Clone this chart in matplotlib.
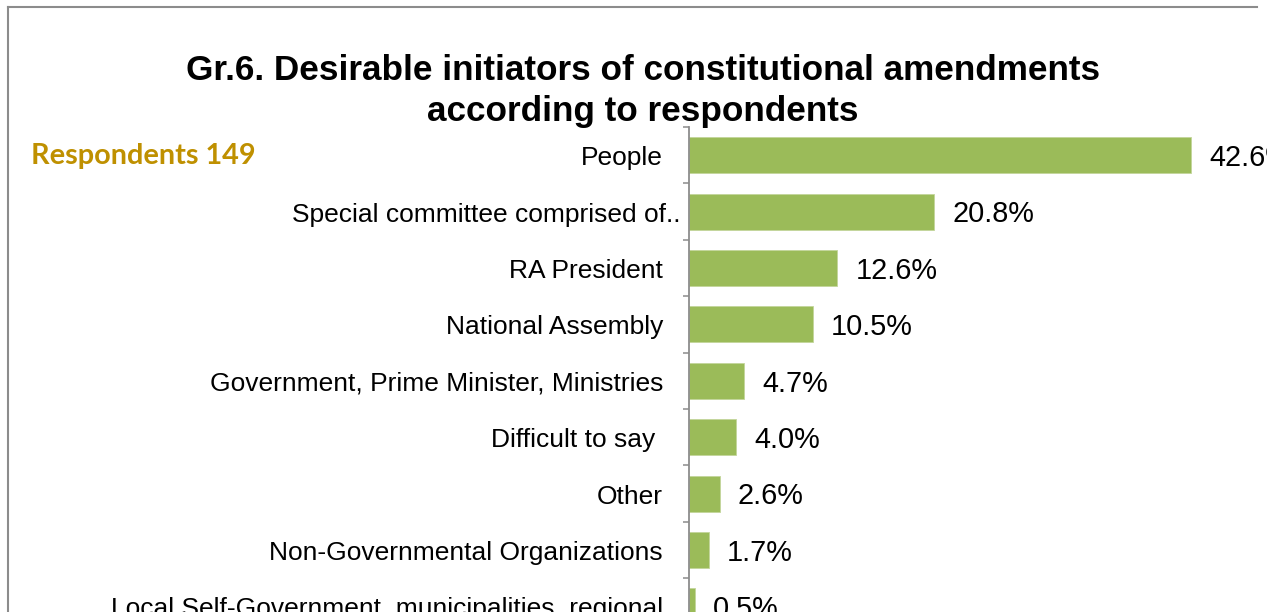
import matplotlib
matplotlib.use('Agg')
import matplotlib.pyplot as plt
from matplotlib.lines import Line2D
from matplotlib.transforms import offset_copy

# survey results, top to bottom
labels = ['People',
          'Special committee comprised of..',
          'RA President',
          'National Assembly',
          'Government, Prime Minister, Ministries',
          'Difficult to say ',
          'Other',
          'Non-Governmental Organizations',
          'Local Self-Government, municipalities, regional']
values = [42.6, 20.8, 12.6, 10.5, 4.7, 4.0, 2.6, 1.7, 0.5]
# extra shift (px) of a label to the right of the common edge
label_shift = [0, 17, 0, 0, 0, 0, 0, 0, 0]

W, H = 1267, 612
fig = plt.figure(figsize=(W / 100, H / 100), dpi=100)
fig.patch.set_facecolor('white')

# outer chart border (left and top only are visible)
fig.add_artist(Line2D([8 / W, 8 / W], [0, 1 - 7 / H], color='#8c8c8c', lw=1.5))
fig.add_artist(Line2D([8 / W, 1257 / W], [1 - 7 / H, 1 - 7 / H], color='#8c8c8c', lw=1.5))

ax_left = 689 / W
ax_top = 127 / H
ax_h = 9 * 56.4 / H
ax = fig.add_axes([ax_left, 1 - ax_top - ax_h, (W - 689) / W, ax_h])
ax.set_facecolor('none')

y = list(range(len(values)))
ax.barh(y, values, height=0.64, color='#9bbb59', edgecolor='#c3d69b', linewidth=0.6)
ax.set_ylim(len(values) - 0.5, -0.5)
ax.set_xlim(0, (W - 689) / 11.78)

for s in ['top', 'right', 'bottom']:
    ax.spines[s].set_visible(False)
ax.spines['left'].set_color('#8c8c8c')
ax.spines['left'].set_linewidth(1.3)
ax.set_xticks([])
ax.set_yticks([i - 0.5 for i in range(len(values) + 1)])
ax.set_yticklabels([])
ax.tick_params(axis='y', direction='out', length=4, width=1.1, color='#8c8c8c')

lab_font = dict(family='Liberation Sans', fontsize=19, color='black')
ytr = ax.get_yaxis_transform()
for i, (lab, sh) in enumerate(zip(labels, label_shift)):
    tr = offset_copy(ytr, fig=fig, x=-26 + sh, y=-3, units='dots')
    ax.text(0, i, lab, transform=tr, ha='right', va='center', clip_on=False, **lab_font)

for i, v in enumerate(values):
    ax.annotate(f'{v:.1f}%', (v, i), xytext=(13, -2), textcoords='offset points',
                ha='left', va='center', fontsize=20.8, family='Liberation Sans',
                annotation_clip=False)

fig.text(643 / W, 1 - 71 / H, 'Gr.6. Desirable initiators of constitutional amendments',
         ha='center', va='center', fontsize=25.3, fontweight='bold', family='Liberation Sans')
fig.text(643 / W, 1 - 111 / H, 'according to respondents',
         ha='center', va='center', fontsize=25.3, fontweight='bold', family='Liberation Sans')
fig.text(31 / W, 1 - 156 / H, 'Respondents 149', ha='left', va='center',
         fontsize=20.8, fontweight='bold', family='Lato', color='#bf9000')

fig.savefig('out.png', dpi=100)
